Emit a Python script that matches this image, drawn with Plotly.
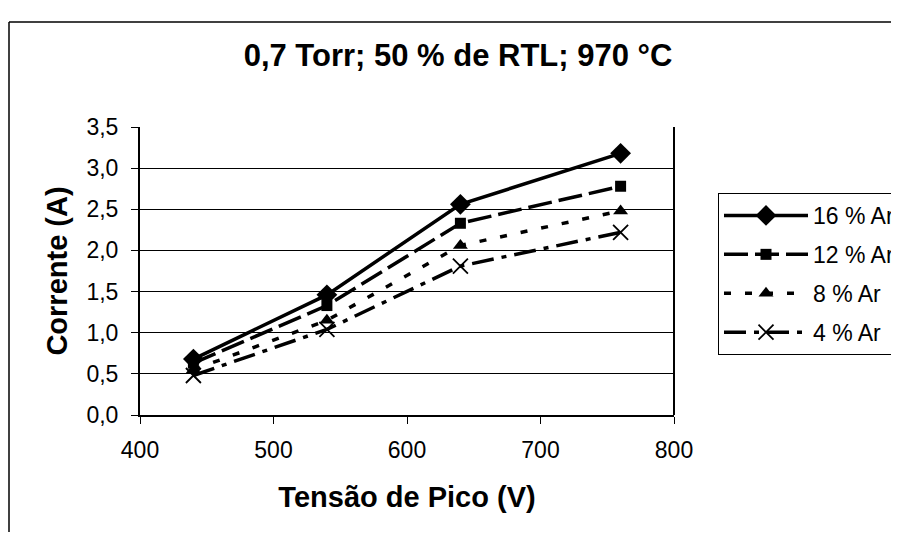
import plotly.graph_objects as go

tensao = [440, 540, 640, 760]
ar16 = [0.68, 1.46, 2.56, 3.18]
ar12 = [0.63, 1.33, 2.33, 2.78]
ar8 = [0.55, 1.15, 2.06, 2.48]
ar4 = [0.48, 1.04, 1.81, 2.22]
series_names = ["16 % Ar", "12 % Ar", "8 % Ar", "4 % Ar"]
y_ticks = [0, 0.5, 1.0, 1.5, 2.0, 2.5, 3.0, 3.5]
x_ticks = [400, 500, 600, 700, 800]

FONT = "Liberation Sans, Arial, sans-serif"

styles = [
    dict(dash="solid", symbol="diamond", size=16, lw=0),
    dict(dash="24px,7px", symbol="square", size=11, lw=0),
    dict(dash="7px,14px", symbol="triangle-up", size=13, lw=0),
    dict(dash="22px,8px,5px,8px", symbol="x-thin-open", size=15, lw=1.8),
]

fig = go.Figure()
for i, (name, vals, st) in enumerate(zip(series_names, [ar16, ar12, ar8, ar4], styles)):
    fig.add_trace(go.Scatter(
        x=tensao, y=vals, name=name, mode="lines+markers", legendgroup=f"g{i}",
        line=dict(color="black", width=3.5, dash=st["dash"]),
        marker=dict(symbol=st["symbol"], size=st["size"], color="black",
                    line=dict(color="black", width=st["lw"])),
    ))

# figure is placed by the page at an 8px offset; keep it inside the 899x540 window
W, H = 891, 524
L, R, T, B = 132, 666, 119, 407
pw, ph = R - L, B - T

def px(xpix):
    return (xpix - L) / pw

def py(ypix):
    return (B - ypix) / ph

fig.update_layout(
    width=W, height=H,
    margin=dict(l=L, r=W - R, t=T, b=H - B, autoexpand=False),
    paper_bgcolor="white", plot_bgcolor="white",
    separators=",.",
    font=dict(family=FONT, size=23, color="black"),
    title=dict(text="<b>0,7 Torr; 50 % de RTL; 970 °C</b>", x=450 / W, xanchor="center",
               y=1 - 47 / H, yanchor="middle", font=dict(size=31, family=FONT)),
    xaxis=dict(range=[400, 800], tickvals=x_ticks, showgrid=False, zeroline=False,
               showline=True, linecolor="black", linewidth=2, ticks="outside",
               ticklen=7, tickcolor="black", tickwidth=1, mirror=False,
               ticklabelstandoff=6,
               title=dict(text="<b>Tensão de Pico (V)</b>", font=dict(size=29), standoff=25),
               tickfont=dict(size=23)),
    yaxis=dict(range=[0, 3.5], tickvals=y_ticks, tickformat=".1f", showgrid=True,
               gridcolor="black", gridwidth=1, zeroline=False,
               showline=True, linecolor="black", linewidth=2, ticks="outside",
               ticklen=7, tickcolor="black", tickwidth=1,
               ticklabelstandoff=8,
               title=dict(text="<b>Corrente (A)</b>", font=dict(size=29), standoff=10),
               tickfont=dict(size=23)),
    legend=dict(x=px(710), y=py(185), xanchor="left", yanchor="top",
                bordercolor="black", borderwidth=1, bgcolor="white",
                font=dict(size=23), itemwidth=84, tracegroupgap=6),
    shapes=[
        dict(type="line", xref="paper", yref="paper",
             x0=px(1), x1=px(1), y0=py(14), y1=py(530),
             line=dict(color="black", width=1.5)),
        dict(type="line", xref="paper", yref="paper",
             x0=px(1), x1=px(900), y0=py(14), y1=py(14),
             line=dict(color="black", width=1.5)),
        dict(type="line", xref="paper", yref="paper", x0=1, x1=1, y0=0, y1=1,
             line=dict(color="black", width=2)),
    ],
)

fig.write_html("out.html")
